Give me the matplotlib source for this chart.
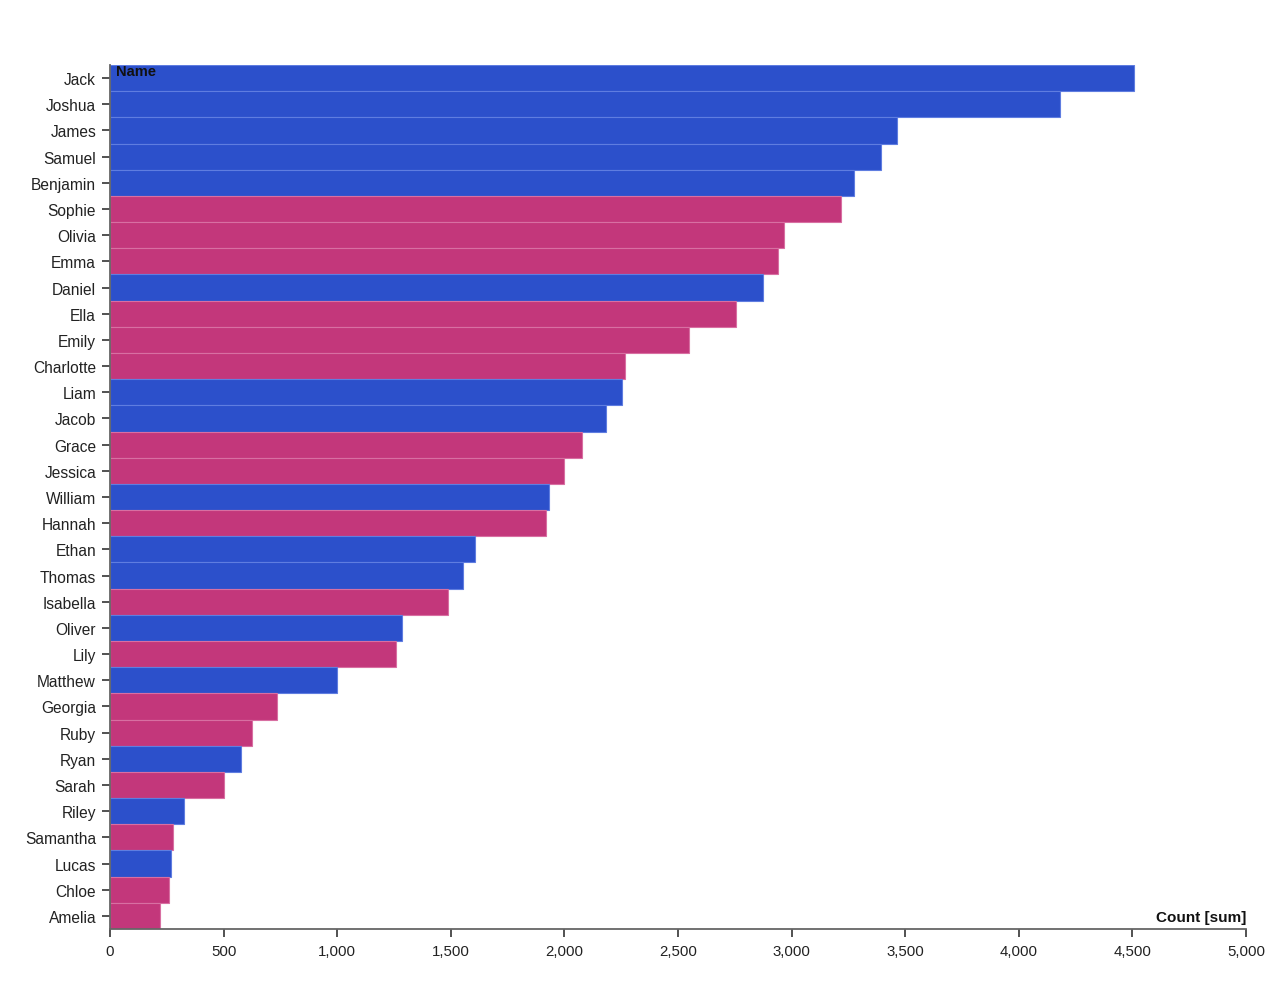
import matplotlib
matplotlib.use("Agg")
import matplotlib.pyplot as plt
from matplotlib.ticker import FuncFormatter, MultipleLocator

names = ["Jack", "Joshua", "James", "Samuel", "Benjamin", "Sophie", "Olivia", "Emma",
         "Daniel", "Ella", "Emily", "Charlotte", "Liam", "Jacob", "Grace", "Jessica",
         "William", "Hannah", "Ethan", "Thomas", "Isabella", "Oliver", "Lily", "Matthew",
         "Georgia", "Ruby", "Ryan", "Sarah", "Riley", "Samantha", "Lucas", "Chloe", "Amelia"]
counts = [4507, 4181, 3464, 3393, 3274, 3217, 2966, 2940,
          2874, 2755, 2548, 2267, 2253, 2183, 2077, 1998,
          1932, 1919, 1606, 1554, 1488, 1285, 1259, 999,
          735, 625, 577, 502, 326, 277, 268, 260, 220]
sex = ["M", "M", "M", "M", "M", "F", "F", "F",
       "M", "F", "F", "F", "M", "M", "F", "F",
       "M", "F", "M", "M", "F", "M", "F", "M",
       "F", "F", "M", "F", "M", "F", "M", "F", "F"]

color_map = {"M": "#2c50cb", "F": "#c3377b"}
edge_map = {"M": "#5f7de0", "F": "#d86fa2"}

plt.rcParams['font.family'] = ['Liberation Sans', 'DejaVu Sans']

fig = plt.figure(figsize=(12.78, 10.04), dpi=100)
ax = fig.add_axes([110/1278, 1 - 930/1004, (1246-110)/1278, (930-66)/1004])

ypos = list(range(len(names)))
ax.barh(ypos, counts, height=1.0,
        color=[color_map[s] for s in sex],
        edgecolor=[edge_map[s] for s in sex], linewidth=0.8)

ax.set_ylim(len(names) - 0.5, -0.5)
ax.set_xlim(0, 5000)
ax.set_yticks(ypos)
ax.set_yticklabels(names)
ax.xaxis.set_major_locator(MultipleLocator(500))
ax.xaxis.set_major_formatter(FuncFormatter(lambda v, p: f"{int(v):,}"))

for s in ["top", "right"]:
    ax.spines[s].set_visible(False)
for s in ["left", "bottom"]:
    ax.spines[s].set_color("#666666")
    ax.spines[s].set_linewidth(1.3)

ax.tick_params(axis="both", direction="out", length=6, width=1.2, color="#333333",
               labelcolor="#222222")
ax.tick_params(axis="y", labelsize=11.2, pad=4)
ax.tick_params(axis="x", labelsize=10.8, pad=4.5)

ax.text(6/1136, 1 - 6/864, "Name", transform=ax.transAxes, ha="left", va="center",
        fontsize=10.5, fontweight="bold", color="#111111")
ax.text(1.0, 12/864, "Count [sum]", transform=ax.transAxes, ha="right", va="center",
        fontsize=11, fontweight="bold", color="#111111")

fig.savefig("out.png", dpi=100)
